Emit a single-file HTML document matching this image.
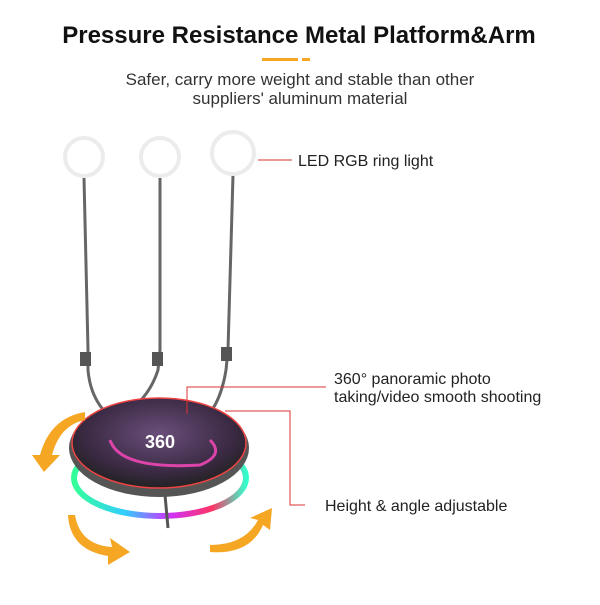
<!DOCTYPE html>
<html><head><style>
body{margin:0;width:600px;height:600px;background:#fff;overflow:hidden;font-family:"Liberation Sans",sans-serif}
</style></head><body>
<svg width="600" height="600" xmlns="http://www.w3.org/2000/svg">
<defs>
<linearGradient id="rb" x1="0" x2="1">
<stop offset="0" stop-color="#3f9"/><stop offset=".3" stop-color="#3cf"/><stop offset=".55" stop-color="#c3f"/><stop offset=".8" stop-color="#f36"/><stop offset="1" stop-color="#3fc"/></linearGradient>
<radialGradient id="top" cx=".5" cy=".4" r=".6"><stop offset="0" stop-color="#6a4f7a"/><stop offset=".7" stop-color="#3b2a44"/><stop offset="1" stop-color="#222"/></radialGradient>
</defs>
<text x="299" y="43" text-anchor="middle" font-size="24" font-weight="bold" fill="#111">Pressure Resistance Metal Platform&amp;Arm</text>
<rect x="262" y="58" width="36" height="3" fill="#f5a623"/>
<rect x="302" y="58" width="8" height="3" fill="#f5a623"/>
<text x="300" y="85" text-anchor="middle" font-size="17" fill="#333">Safer, carry more weight and stable than other</text>
<text x="300" y="104" text-anchor="middle" font-size="17" fill="#333">suppliers' aluminum material</text>
<g fill="none" stroke="#666" stroke-width="3">
<path d="M84 178 L88 350 L88 370 Q90 395 105 412"/>
<path d="M160 178 L160 350 L158 370 Q150 395 130 410"/>
<path d="M233 175 L228 350 L226 370 Q222 395 212 410"/>
</g>
<g fill="none" stroke="#ececec" stroke-width="4">
<circle cx="84" cy="157" r="19"/><circle cx="160" cy="157" r="19"/><circle cx="233" cy="153" r="21"/></g>
<g fill="#555"><rect x="80" y="352" width="11" height="14"/><rect x="152" y="352" width="11" height="14"/><rect x="221" y="347" width="11" height="14"/></g>
<ellipse cx="160" cy="478" rx="86" ry="38" fill="none" stroke="url(#rb)" stroke-width="6"/>
<line x1="165" y1="495" x2="168" y2="528" stroke="#555" stroke-width="3"/>
<ellipse cx="159" cy="448" rx="90" ry="49" fill="#555"/>
<ellipse cx="159" cy="443" rx="87" ry="45" fill="url(#top)" stroke="#e44" stroke-width="1.5"/>
<text x="160" y="448" text-anchor="middle" font-size="18" font-weight="bold" fill="#fff">360</text>
<path d="M110 440 Q120 470 200 465 Q225 455 210 440" fill="none" stroke="#d4a" stroke-width="3"/>
<g fill="#f5a623">
<path d="M40 455 Q50 418 85 412 L85 420 Q60 425 52 455 L60 455 L44 472 L32 455Z"/>
<path d="M75 515 Q80 545 112 547 L110 538 L130 552 L108 565 L108 556 Q70 550 68 515Z"/>
<path d="M210 545 Q245 545 258 520 L250 518 L272 508 L270 530 L263 525 Q250 555 210 552Z"/>
</g>
<g fill="none" stroke="#d33" stroke-width="1">
<path d="M258 160 H292"/>
<path d="M187 414 V387 H326"/>
<path d="M225 411 H290 V505 H305"/>
</g>
<g font-size="16" fill="#222">
<text x="298" y="166">LED RGB ring light</text>
<text x="334" y="384">360° panoramic photo</text>
<text x="334" y="402">taking/video smooth shooting</text>
<text x="325" y="511">Height &amp; angle adjustable</text>
</g>
</svg>
</body></html>
